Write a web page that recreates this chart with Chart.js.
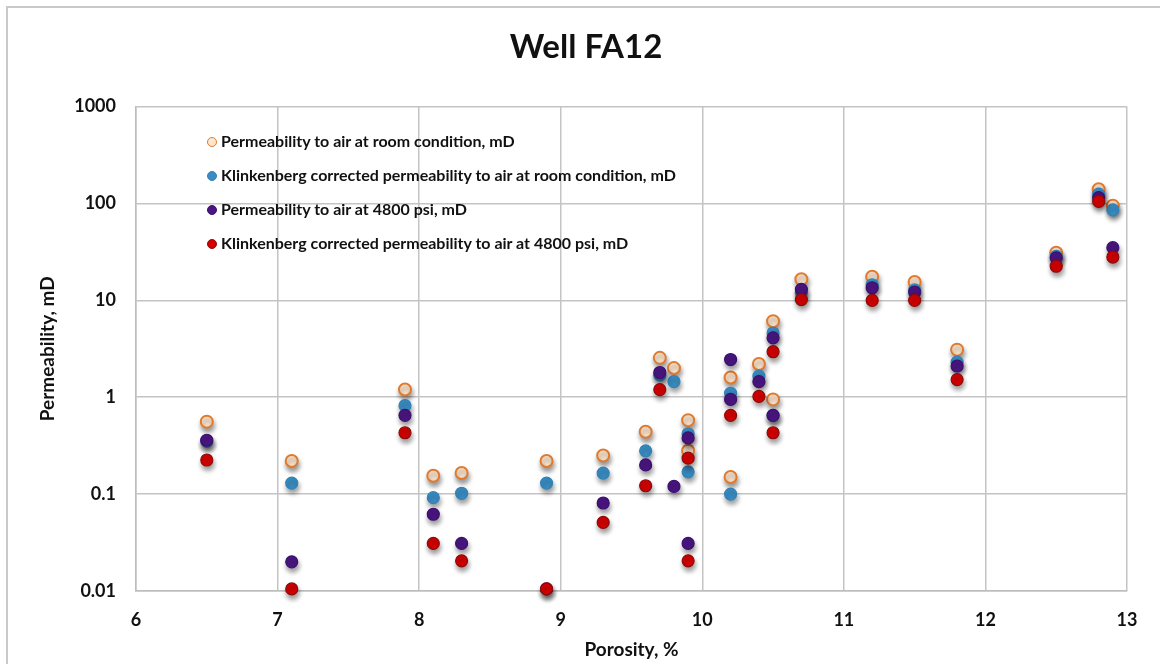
<!DOCTYPE html>
<html>
<head>
<meta charset="utf-8">
<script src="https://cdn.jsdelivr.net/npm/chart.js@4/dist/chart.umd.min.js"></script>
<style>
    html, body { margin: 0; padding: 0; background: #fff; }
    #wrap { position: relative; width: 1160px; height: 664px; overflow: hidden; }
    #frame {
        position: absolute; left: 6px; top: 6px; right: -10px; bottom: -10px;
        border-left: 2px solid #c9c9c9; border-top: 2px solid #c9c9c9;
    }
    #legend {
        position: absolute; left: 207px; top: 124px;
        font-family: Lato, "Open Sans", sans-serif; font-weight: bold; font-size: 16px; color: #111;
    }
    #legend div { height: 34px; line-height: 34px; white-space: nowrap; }
    #legend span {
        display: inline-block; width: 8px; height: 8px; border-radius: 50%;
        margin-right: 4px; vertical-align: middle; position: relative; top: -1px;
    }
</style>
</head>
<body>
<div id="wrap">
    <div id="frame"></div>
    <canvas id="chart" width="1160" height="664"></canvas>
    <div id="legend"></div>
</div>
<script>
// porosity of each plug, %
const porosity = [6.5, 7.1, 7.9, 8.1, 8.3, 8.9, 9.3, 9.6, 9.7, 9.8, 9.9, 9.9,
    10.2, 10.2, 10.4, 10.5, 10.5, 10.7, 11.2, 11.5, 11.8, 12.5, 12.8, 12.9];

// permeability readings, mD
const airRoom = [0.56, 0.22, 1.2, 0.155, 0.165, 0.22, 0.25, 0.44, 2.55, 2.0, 0.58, 0.28,
    1.6, 0.15, 2.2, 6.1, 0.95, 16.5, 17.5, 15.5, 3.1, 31, 140, 95];
const klinkRoom = [0.35, 0.13, 0.82, 0.092, 0.102, 0.13, 0.165, 0.28, 1.7, 1.45, 0.42, 0.17,
    1.1, 0.1, 1.65, 4.6, 0.65, 12, 14.5, 12.8, 2.3, 28.5, 125, 86];
const air4800 = [0.36, 0.02, 0.65, 0.062, 0.031, 0.0105, 0.081, 0.2, 1.8, 0.12, 0.38, 0.031,
    0.95, 2.45, 1.45, 4.1, 0.65, 13, 13.5, 12.2, 2.1, 27.5, 115, 35];
const klink4800 = [0.225, 0.0105, 0.43, 0.031, 0.0205, 0.0105, 0.051, 0.122, 1.2, null, 0.235, 0.0205,
    0.65, null, 1.02, 2.95, 0.43, 10.2, 10, 10, 1.52, 22.5, 105, 28];

const seriesNames = [
    "Permeability to air at room condition, mD",
    "Klinkenberg corrected permeability to air at room condition, mD",
    "Permeability to air at 4800 psi, mD",
    "Klinkenberg corrected permeability to air at 4800 psi, mD"
];
const yTicks = [0.01, 0.1, 1, 10, 100, 1000];
const yTickLabels = ["0.01", "0.1", "1", "10", "100", "1000"];
const xTicks = [6, 7, 8, 9, 10, 11, 12, 13];

const fills = ["#fee7d0", "#3a8dc3", "#4a1682", "#d40000"];
const borders = ["#df7a2e", "#3182b8", "#3d0f70", "#8e0a0a"];

function toPoints(values) {
    return porosity.map((x, i) => ({ x: x, y: values[i] })).filter(p => p.y !== null);
}

// soft drop shadow under the markers
const shadowPlugin = {
    id: "markerShadow",
    beforeDatasetsDraw(chart) {
        const c = chart.ctx;
        c.save();
        c.shadowColor = "rgba(0,0,0,0.4)";
        c.shadowBlur = 5;
        c.shadowOffsetX = 1;
        c.shadowOffsetY = 4;
    },
    afterDatasetsDraw(chart) {
        chart.ctx.restore();
    }
};

const allSeries = [airRoom, klinkRoom, air4800, klink4800];
const datasets = allSeries.map((vals, i) => ({
    label: seriesNames[i],
    data: toPoints(vals),
    backgroundColor: fills[i],
    borderColor: borders[i],
    borderWidth: i === 0 ? 2 : 1.2,
    pointRadius: 6,
    order: allSeries.length - i,   // later series on top, like the original
    clip: false
}));

const tickFont = { family: "Lato", weight: "bold", size: 18 };
const titleFont = { family: "Lato", weight: "bold", size: 19 };

new Chart(document.getElementById("chart").getContext("2d"), {
    type: "scatter",
    data: { datasets: datasets },
    plugins: [shadowPlugin],
    options: {
        responsive: false,
        animation: false,
        layout: { padding: { left: 45, right: 33, top: 0, bottom: 0 } },
        plugins: {
            legend: { display: false },
            tooltip: { enabled: false },
            title: {
                display: true,
                text: "Well FA12",
                color: "#111",
                font: { family: "Lato", weight: "bold", size: 33 },
                padding: { top: 28, bottom: 39 }
            }
        },
        scales: {
            x: {
                type: "linear",
                min: 6,
                max: 13,
                afterBuildTicks: s => { s.ticks = xTicks.map(v => ({ value: v })); },
                afterFit: s => { s.height = 73; },
                ticks: { color: "#111", font: tickFont, padding: 18 },
                grid: { color: "#c4c4c4", lineWidth: 1.5, drawTicks: false },
                border: { color: "#bdbdbd", width: 1.5 },
                title: { display: true, text: "Porosity, %", color: "#111", font: titleFont, padding: { top: 0, bottom: 3 } }
            },
            y: {
                type: "logarithmic",
                min: 0.01,
                max: 1000,
                afterBuildTicks: s => { s.ticks = yTicks.map(v => ({ value: v })); },
                afterFit: s => { s.width = 91; },
                ticks: {
                    color: "#111", font: tickFont, padding: 20,
                    callback: v => yTickLabels[yTicks.indexOf(v)]
                },
                grid: { color: "#c4c4c4", lineWidth: 1.5, drawTicks: false },
                border: { color: "#bdbdbd", width: 1.5 },
                title: { display: true, text: "Permeability, mD", color: "#111", font: titleFont, padding: { top: -9, bottom: 0 } }
            }
        }
    }
});

// legend sits inside the plot, top left
const legend = document.getElementById("legend");
seriesNames.forEach((name, i) => {
    const row = document.createElement("div");
    const dot = document.createElement("span");
    dot.style.background = fills[i];
    dot.style.border = "1.5px solid " + borders[i];
    row.appendChild(dot);
    row.appendChild(document.createTextNode(name));
    legend.appendChild(row);
});
</script>
</body>
</html>
